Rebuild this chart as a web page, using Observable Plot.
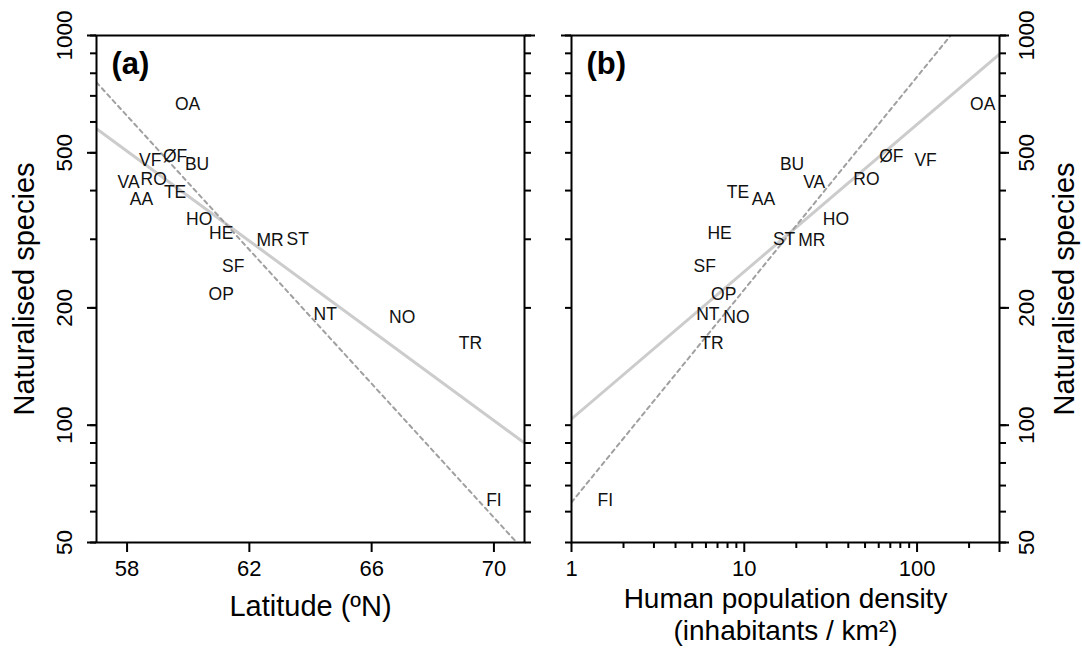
<!DOCTYPE html>
<html><head><meta charset="utf-8">
<script src="https://cdn.jsdelivr.net/npm/d3@7"></script>
<script src="https://cdn.jsdelivr.net/npm/@observablehq/plot@0.6"></script>
<style>
html,body{margin:0;padding:0;background:#fff;}
#chart{position:relative;width:1082px;height:648px;overflow:hidden;background:#fff;}
</style></head><body><div id="chart"></div>
<script>
// ---- data ----
const regions  = ["OA","VF","ØF","BU","VA","RO","TE","AA","HO","HE","MR","ST","SF","OP","NT","NO","TR","FI"];
const latitude = [59.98,58.76,59.57,60.29,58.05,58.87,59.57,58.47,60.36,61.08,62.68,63.58,61.47,61.08,64.48,67.0,69.23,70.0];
const density  = [240,112,71,18.9,25.4,50.9,9.2,12.9,33.9,7.2,24.6,17.0,5.9,7.6,6.15,9.0,6.5,1.57];
const species  = [665,478,489,466,420,427,395,380,338,311,298,300,256,217,192,189,162,64];

const latTicks = [58,62,66,70];
const densityMajorTicks = [1,10,100];
const densityMinorTicks = [2,3,4,5,6,7,8,9,20,30,40,50,60,70,80,90,200];
const densityEdgeTick = [300];
const speciesTicks = [50,60,70,80,90,100,200,300,400,500,600,700,800,900,1000];
const speciesLabelTicks = [50,100,200,500,1000];
const speciesTopTick = [1000];

// regression lines: log10(species) = intercept + slope * x  (x = latitude, or log10(density))
const fitLatSolid  = {intercept: 6.044, slope: -0.0576};
const fitLatDashed = {intercept: 7.776, slope: -0.0859};
const fitDenSolid  = {intercept: 2.016, slope: 0.378};
const fitDenDashed = {intercept: 1.802, slope: 0.546};

const latDomain = [57, 71];
const denDomain = [1, 300];
const spDomain = [50, 1000];

const rows = regions.map((r, i) => ({code: r, lat: latitude[i], den: density[i], sp: species[i]}));

const FONT = "'Liberation Sans', Arial, Helvetica, sans-serif";
const H = 648, MT = 35, MB = 106;
const solidStyle = {stroke: "#cccccc", strokeWidth: 3};
const dashedStyle = {stroke: "#a0a0a0", strokeWidth: 2, strokeDasharray: "4,4"};

function linePts(fit, domain, logX) {
  return domain.map(v => ({x: v, y: Math.pow(10, fit.intercept + fit.slope * (logX ? Math.log10(v) : v))}));
}

function yTickMarks(anchor, outer) {
  const m = [Plot.axisY({anchor, ticks: speciesTicks, tickSize: 6, fill: "none", stroke: "black", strokeWidth: 2, label: null})];
  if (outer) m.push(Plot.axisY({anchor, ticks: speciesLabelTicks, tickSize: 9, fill: "none", stroke: "black", strokeWidth: 2, label: null}));
  else m.push(Plot.axisY({anchor, ticks: speciesTopTick, tickSize: 10, fill: "none", stroke: "black", strokeWidth: 2, label: null}));
  return m;
}

function yLabels(side) {
  return [
    Plot.text(speciesLabelTicks, {y: d => d, text: d => String(d), frameAnchor: side, dx: side === "left" ? -31.5 : 27,
      rotate: -90, textAnchor: "middle", lineAnchor: "middle", fontSize: 22.5, fill: "black"}),
    Plot.text(["Naturalised species"], {frameAnchor: side, dx: side === "left" ? -72 : 65, rotate: -90,
      textAnchor: "middle", lineAnchor: "middle", fontSize: 29, fill: "black"})
  ];
}

// ---- panel (a) ----
const plotA = Plot.plot({
  width: 548, height: H,
  marginLeft: 96, marginRight: 24, marginTop: MT, marginBottom: MB,
  style: {fontFamily: FONT, background: "transparent", overflow: "visible"},
  x: {domain: latDomain},
  y: {type: "log", domain: spDomain},
  marks: [
    Plot.line(linePts(fitLatSolid, latDomain, false), {x: "x", y: "y", ...solidStyle, clip: true}),
    Plot.line(linePts(fitLatDashed, latDomain, false), {x: "x", y: "y", ...dashedStyle, clip: true}),
    Plot.text(rows, {x: "lat", y: "sp", text: "code", fontSize: 17.5, fill: "#111", textAnchor: "middle", lineAnchor: "middle"}),
    Plot.frame({stroke: "black", strokeWidth: 2}),
    ...yTickMarks("left", true),
    ...yTickMarks("right", false),
    Plot.axisX({ticks: latTicks, tickSize: 10, fill: "none", stroke: "black", strokeWidth: 2, label: null}),
    Plot.text(latTicks, {x: d => d, text: d => String(d), frameAnchor: "bottom", dy: 26.5, lineAnchor: "middle", fontSize: 22, fill: "black"}),
    ...yLabels("left"),
    Plot.text(["Latitude (ºN)"], {frameAnchor: "bottom", dy: 64.7, lineAnchor: "middle", fontSize: 29, fill: "black"}),
    Plot.text(["(a)"], {frameAnchor: "top-left", dx: 15, dy: 29, textAnchor: "start", lineAnchor: "middle", fontSize: 31, fontWeight: "bold", fill: "black"})
  ]
});

// ---- panel (b) ----
const plotB = Plot.plot({
  width: 534, height: H,
  marginLeft: 23, marginRight: 83, marginTop: MT, marginBottom: MB,
  style: {fontFamily: FONT, background: "transparent", overflow: "visible"},
  x: {type: "log", domain: denDomain},
  y: {type: "log", domain: spDomain},
  marks: [
    Plot.line(linePts(fitDenSolid, denDomain, true), {x: "x", y: "y", ...solidStyle, clip: true}),
    Plot.line(linePts(fitDenDashed, denDomain, true), {x: "x", y: "y", ...dashedStyle, clip: true}),
    Plot.text(rows, {x: "den", y: "sp", text: "code", fontSize: 17.5, fill: "#111", textAnchor: "middle", lineAnchor: "middle"}),
    Plot.frame({stroke: "black", strokeWidth: 2}),
    ...yTickMarks("left", false),
    ...yTickMarks("right", true),
    Plot.axisX({ticks: densityMinorTicks, tickSize: 6, fill: "none", stroke: "black", strokeWidth: 2, label: null}),
    Plot.axisX({ticks: densityMajorTicks.concat(densityEdgeTick), tickSize: 10, fill: "none", stroke: "black", strokeWidth: 2, label: null}),
    Plot.text(densityMajorTicks, {x: d => d, text: d => String(d), frameAnchor: "bottom", dy: 26.5, lineAnchor: "middle", fontSize: 22, fill: "black"}),
    ...yLabels("right"),
    Plot.text(["Human population density"], {frameAnchor: "bottom", dy: 56.5, lineAnchor: "middle", fontSize: 28, fill: "black"}),
    Plot.text(["(inhabitants / km²)"], {frameAnchor: "bottom", dy: 88.5, lineAnchor: "middle", fontSize: 28, fill: "black"}),
    Plot.text(["(b)"], {frameAnchor: "top-left", dx: 15, dy: 29, textAnchor: "start", lineAnchor: "middle", fontSize: 31, fontWeight: "bold", fill: "black"})
  ]
});

const chart = document.getElementById("chart");
plotA.style.position = "absolute"; plotA.style.left = "0px"; plotA.style.top = "0px";
plotB.style.position = "absolute"; plotB.style.left = "548px"; plotB.style.top = "0px";
chart.appendChild(plotA);
chart.appendChild(plotB);
</script>
</body></html>
